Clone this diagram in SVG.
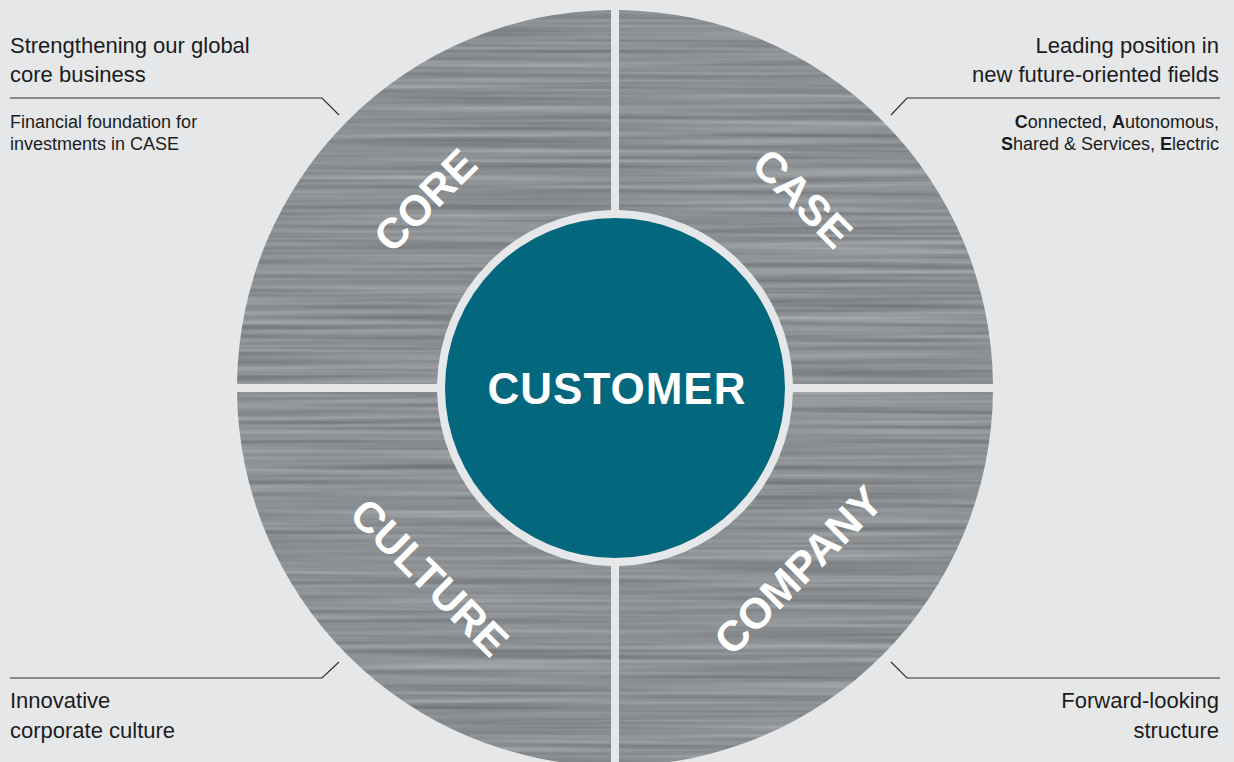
<svg xmlns="http://www.w3.org/2000/svg" width="1234" height="762" viewBox="0 0 1234 762">
<defs>
<filter id="brushed" x="0" y="0" width="1" height="1" color-interpolation-filters="sRGB">
<feTurbulence type="fractalNoise" baseFrequency="0.003 0.2" numOctaves="2" seed="7" result="noise"/>
<feColorMatrix in="noise" type="matrix" values="0.28 0 0 0 0.41  0.28 0 0 0 0.425  0.28 0 0 0 0.435  0 0 0 0 1" result="metal"/>
<feComposite in="metal" in2="SourceGraphic" operator="in"/>
</filter>
<style>
.bg{fill:#e6e7e9}
.seg{fill:#8f9598;filter:url(#brushed)}
.seg-label{font-family:"Liberation Sans",Arial,sans-serif;font-weight:bold;font-size:43px;fill:#ffffff;text-anchor:middle}
.center{fill:#03687e}
.center-label{font-family:"Liberation Sans",Arial,sans-serif;font-weight:bold;font-size:44px;letter-spacing:1px;fill:#ffffff;text-anchor:middle}
.big{font-family:"Liberation Sans",Arial,sans-serif;font-size:22px;fill:#1c1c1c}
.small{font-family:"Liberation Sans",Arial,sans-serif;font-size:18px;fill:#1c1c1c}
.r{text-anchor:end}
.b{font-weight:bold}
.leader{fill:none;stroke:#2b2b2b;stroke-width:1.1}
</style>
</defs>
<rect class="bg" x="0" y="0" width="1234" height="762"/>

<g id="core">
<path class="seg" d="M611,10.02 A378,378 0 0 0 237.02,384 L437.05,384 A178,178 0 0 1 611,210.05 Z"/>
<text class="seg-label" transform="translate(425,200) rotate(-45)" x="0" y="15.4">CORE</text>
</g>
<g id="case">
<path class="seg" d="M619,10.02 A378,378 0 0 1 992.98,384 L792.95,384 A178,178 0 0 0 619,210.05 Z"/>
<text class="seg-label" transform="translate(803,198) rotate(45)" x="0" y="15.4">CASE</text>
</g>
<g id="company">
<path class="seg" d="M992.98,392 A378,378 0 0 1 619,765.98 L619,565.95 A178,178 0 0 0 792.95,392 Z"/>
<text class="seg-label" transform="translate(798,570) rotate(-45)" x="0" y="15.4">COMPANY</text>
</g>
<g id="culture">
<path class="seg" d="M611,765.98 A378,378 0 0 1 237.02,392 L437.05,392 A178,178 0 0 0 611,565.95 Z"/>
<text class="seg-label" transform="translate(430,577) rotate(45)" x="0" y="15.4">CULTURE</text>
</g>
<g id="customer">
<circle class="center" cx="615" cy="388" r="170"/>
<text class="center-label" x="617" y="404">CUSTOMER</text>
</g>

<g id="connectors">
<polyline class="leader" points="10,98 322,98 339,115"/>
<polyline class="leader" points="1220,98 907,98 891,115"/>
<polyline class="leader" points="10,678 322,678 339,662"/>
<polyline class="leader" points="1220,678 907,678 891,662"/>
</g>

<g id="note-core">
<text class="big" x="10" y="53">Strengthening our global</text>
<text class="big" x="10" y="82">core business</text>
<text class="small" x="10" y="128">Financial foundation for</text>
<text class="small" x="10" y="150">investments in CASE</text>
</g>
<g id="note-case">
<text class="big r" x="1219" y="53">Leading position in</text>
<text class="big r" x="1219" y="82">new future-oriented fields</text>
<text class="small r" x="1219" y="128"><tspan class="b">C</tspan>onnected, <tspan class="b">A</tspan>utonomous,</text>
<text class="small r" x="1219" y="150"><tspan class="b">S</tspan>hared &amp; Services, <tspan class="b">E</tspan>lectric</text>
</g>
<g id="note-culture">
<text class="big" x="10" y="708">Innovative</text>
<text class="big" x="10" y="738">corporate culture</text>
</g>
<g id="note-company">
<text class="big r" x="1219" y="708">Forward-looking</text>
<text class="big r" x="1219" y="738">structure</text>
</g>
</svg>
